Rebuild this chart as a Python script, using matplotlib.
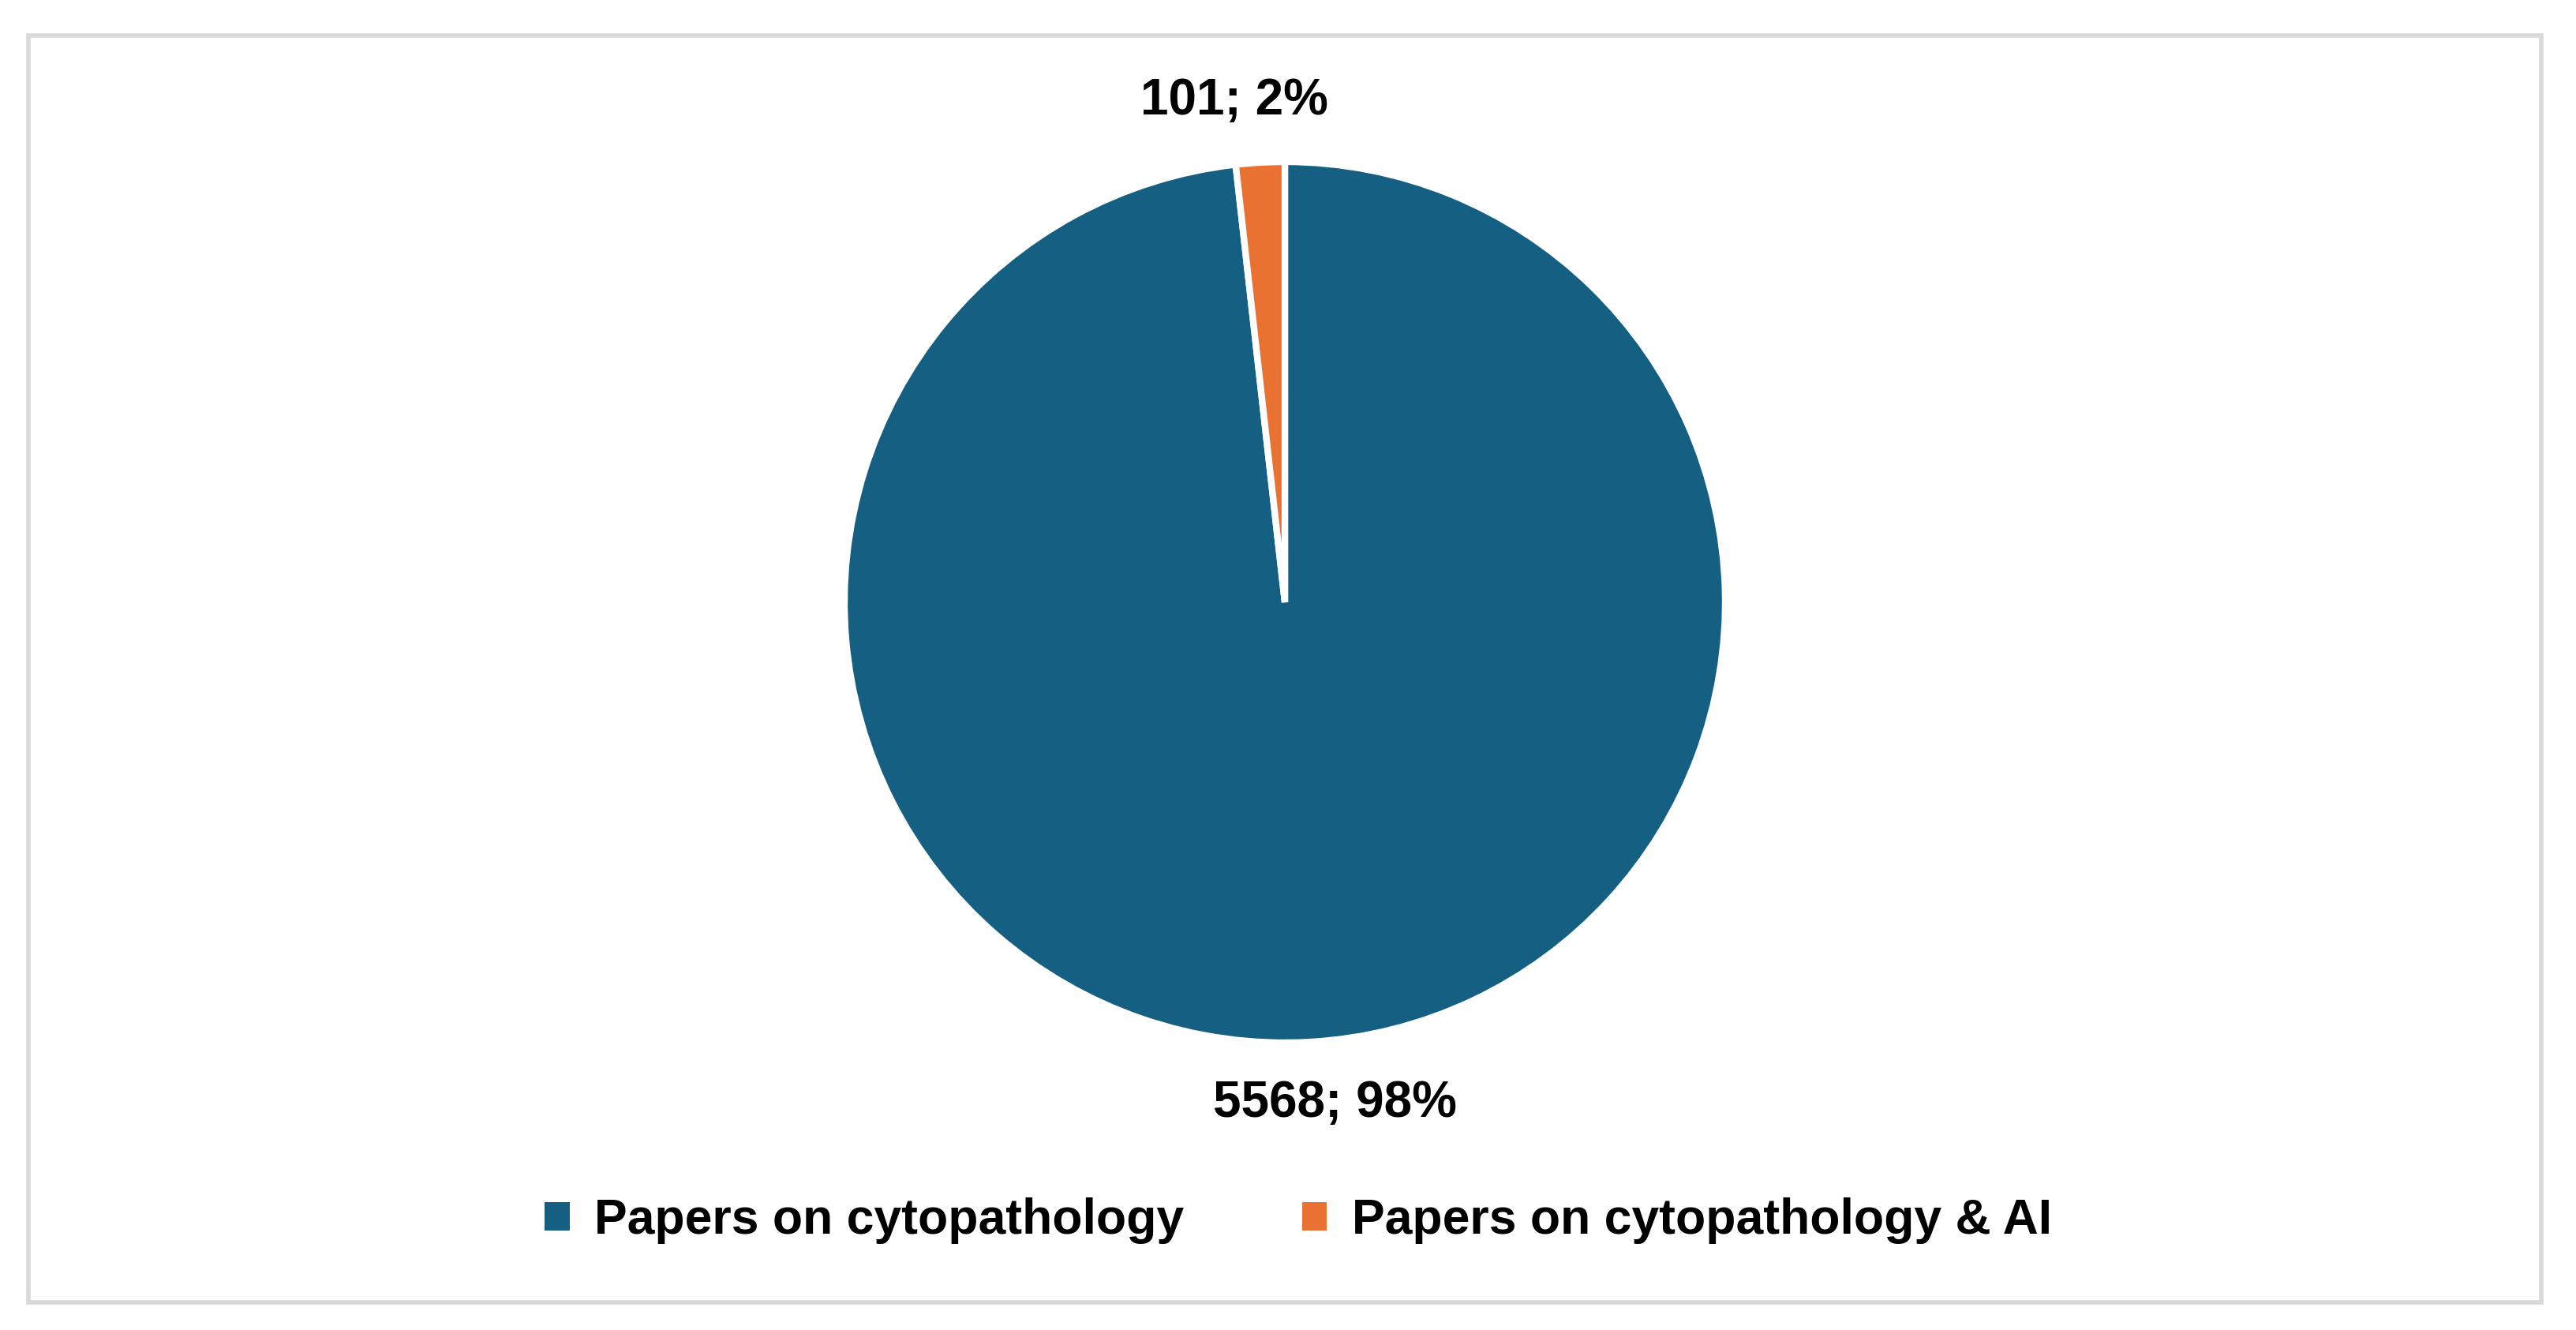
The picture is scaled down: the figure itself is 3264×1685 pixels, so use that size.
import numpy as np
import matplotlib
matplotlib.use('Agg')
import matplotlib.pyplot as plt
from matplotlib.patches import Rectangle, Patch

# data
categories = ['Papers on cytopathology', 'Papers on cytopathology & AI']
counts = [5568, 101]
colors = ['#156082', '#E97132']

plt.rcParams['font.family'] = ['Liberation Sans', 'DejaVu Sans']

W, H = 3264, 1685
fig = plt.figure(figsize=(W / 100, H / 100), dpi=100)
ax = fig.add_axes([0, 0, 1, 1])

# outer frame
ax.add_patch(Rectangle((36, H - 1650), 3184, 1605, fill=False, edgecolor='#d9d9d9', lw=4))

cx, cy, r = 1628, H - 763, 558
wedges, _ = ax.pie(counts, colors=colors, startangle=90, counterclock=False,
                   center=(cx, cy), radius=r, frame=True,
                   wedgeprops=dict(edgecolor='white', linewidth=6))
ax.set_xlim(0, W)
ax.set_ylim(0, H)
ax.set_aspect('equal')
ax.axis('off')

total = sum(counts)
for w, n in zip(wedges, counts):
    mid = np.deg2rad((w.theta1 + w.theta2) / 2)
    x = cx + 1.14 * r * np.cos(mid) + 28 * np.sign(np.cos(mid))
    y = cy + 1.14 * r * np.sin(mid)
    ax.text(x, y, f'{n}; {round(100 * n / total)}%', ha='center', va='center',
            fontsize=46, fontweight='bold', color='black')

handles = [Patch(facecolor=c, edgecolor='none') for c in colors]
ax.legend(handles, categories, loc='center', bbox_to_anchor=(1645, H - 1547),
          bbox_transform=ax.transData, ncol=2, frameon=False,
          prop=dict(size=45, weight='bold'), handlelength=0.5, handleheight=0.5,
          handletextpad=0.5, columnspacing=2.4)

fig.savefig('out.png', dpi=100, facecolor='white')
